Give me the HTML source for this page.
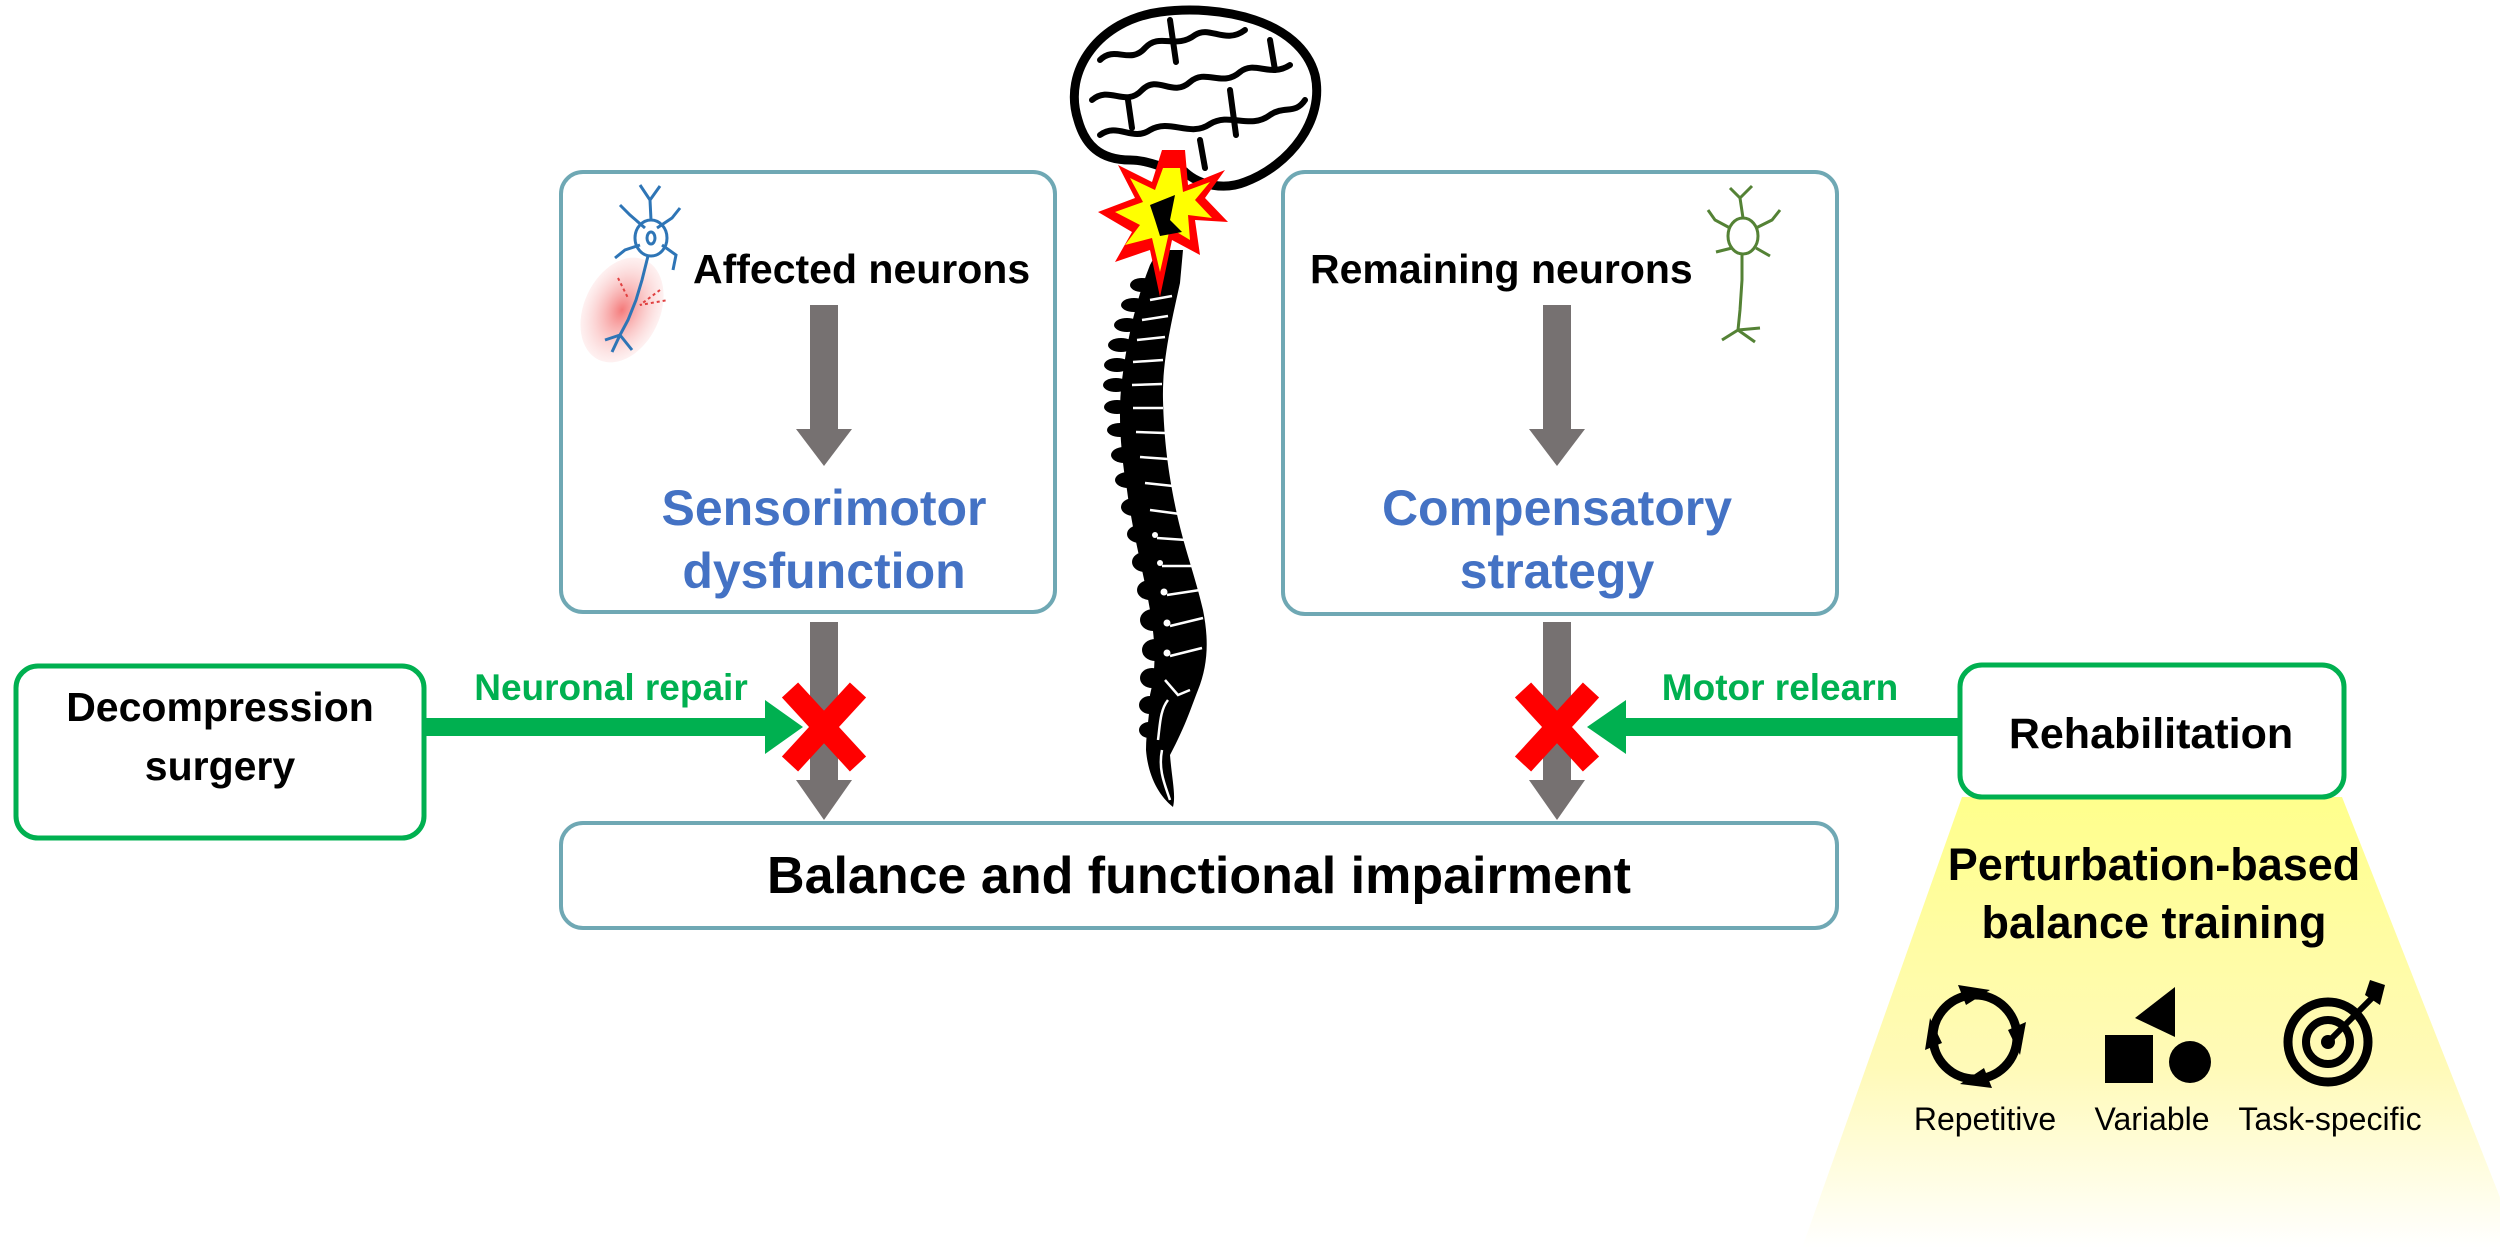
<!DOCTYPE html>
<html><head><meta charset="utf-8"><style>
html,body{margin:0;padding:0;background:#fff;}
svg{display:block;font-family:"Liberation Sans",Arial,sans-serif;}
</style></head><body>
<svg width="2500" height="1248" viewBox="0 0 2500 1248" xmlns="http://www.w3.org/2000/svg">
<defs>
<linearGradient id="yg" x1="0" y1="0" x2="0" y2="1">
<stop offset="0" stop-color="#ffff8c"/><stop offset="0.6" stop-color="#fffab8"/><stop offset="1" stop-color="#ffffff"/>
</linearGradient>
<radialGradient id="pink"><stop offset="0" stop-color="#f47a7a"/><stop offset="1" stop-color="#fbd0d0" stop-opacity="0.3"/></radialGradient>
</defs>

<polygon points="1962,797 2342,797 2520,1248 1802,1248" fill="url(#yg)"/>

<rect x="561" y="172" width="494" height="440" rx="22" fill="#fff" stroke="#6fa8b4" stroke-width="4"/>
<rect x="1283" y="172" width="554" height="442" rx="22" fill="#fff" stroke="#6fa8b4" stroke-width="4"/>
<rect x="561" y="823" width="1276" height="105" rx="22" fill="#fff" stroke="#6fa8b4" stroke-width="4"/>
<rect x="16" y="666" width="408" height="172" rx="22" fill="#fff" stroke="#00b050" stroke-width="5"/>
<rect x="1960" y="665" width="384" height="132" rx="22" fill="#fff" stroke="#00b050" stroke-width="5"/>

<g fill="#767171">
<rect x="810" y="305" width="28" height="126"/><polygon points="796,429 852,429 824,466"/>
<rect x="1543" y="305" width="28" height="126"/><polygon points="1529,429 1585,429 1557,466"/>
<rect x="810" y="622" width="28" height="160"/><polygon points="796,780 852,780 824,820"/>
<rect x="1543" y="622" width="28" height="160"/><polygon points="1529,780 1585,780 1557,820"/>
</g>

<g fill="#00b050">
<rect x="424" y="718" width="345" height="18"/><polygon points="765,700 803,727 765,754"/>
<rect x="1622" y="718" width="338" height="18"/><polygon points="1626,700 1587,727 1626,754"/>
</g>

<g stroke="#ff0000" stroke-width="22" stroke-linecap="butt">
<line x1="790" y1="690" x2="858" y2="764"/><line x1="858" y1="690" x2="790" y2="764"/>
<line x1="1523" y1="690" x2="1591" y2="764"/><line x1="1591" y1="690" x2="1523" y2="764"/>
</g>

<g font-weight="bold">
<text x="693" y="283" font-size="41" fill="#000">Affected neurons</text>
<text x="1310" y="283" font-size="41" fill="#000">Remaining neurons</text>
<text x="824" y="525" font-size="50" fill="#4472c4" text-anchor="middle">Sensorimotor</text>
<text x="824" y="588" font-size="50" fill="#4472c4" text-anchor="middle">dysfunction</text>
<text x="1557" y="525" font-size="50" fill="#4472c4" text-anchor="middle">Compensatory</text>
<text x="1557" y="588" font-size="50" fill="#4472c4" text-anchor="middle">strategy</text>
<text x="1199" y="893" font-size="52" fill="#000" text-anchor="middle">Balance and functional impairment</text>
<text x="220" y="721" font-size="41" fill="#000" text-anchor="middle">Decompression</text>
<text x="220" y="780" font-size="41" fill="#000" text-anchor="middle">surgery</text>
<text x="2151" y="748" font-size="43" fill="#000" text-anchor="middle">Rehabilitation</text>
<text x="611" y="700" font-size="37" fill="#00b050" text-anchor="middle">Neuronal repair</text>
<text x="1780" y="700" font-size="37" fill="#00b050" text-anchor="middle">Motor relearn</text>
<text x="2154" y="880" font-size="45" fill="#000" text-anchor="middle">Perturbation-based</text>
<text x="2154" y="938" font-size="45" fill="#000" text-anchor="middle">balance training</text>
</g>
<g font-size="32" fill="#000" text-anchor="middle">
<text x="1985" y="1130">Repetitive</text>
<text x="2152" y="1130">Variable</text>
<text x="2330" y="1130">Task-specific</text>
</g>

<g>
<circle cx="1975" cy="1037" r="42" fill="none" stroke="#000" stroke-width="9"/>
<polygon points="1958,985 1990,990 1966,1005" fill="#000"/>
<polygon points="2026,1022 2020,1055 2008,1030" fill="#000"/>
<polygon points="1992,1088 1960,1084 1984,1068" fill="#000"/>
<polygon points="1925,1050 1930,1018 1942,1043" fill="#000"/>
<rect x="2105" y="1035" width="48" height="48" fill="#000"/>
<polygon points="2175,987 2175,1037 2135,1018" fill="#000"/>
<circle cx="2190" cy="1062" r="21" fill="#000"/>
<circle cx="2328" cy="1042" r="40" fill="none" stroke="#000" stroke-width="9"/>
<circle cx="2328" cy="1042" r="22" fill="none" stroke="#000" stroke-width="8"/>
<circle cx="2328" cy="1042" r="7" fill="#000"/>
<line x1="2328" y1="1042" x2="2378" y2="992" stroke="#000" stroke-width="6"/>
<polygon points="2385,985 2380,1005 2365,995 2370,980" fill="#000"/>
</g>

<ellipse cx="622" cy="310" rx="38" ry="55" fill="url(#pink)" transform="rotate(25 622 310)"/>
<g fill="none" stroke="#2e75b6" stroke-width="3">
<ellipse cx="651" cy="238" rx="16" ry="18"/>
<path d="M651 220 L650 200 L640 185 M650 200 L660 186 M645 228 L630 215 L620 205 M657 228 L672 218 L680 208 M640 245 L625 250 L615 258 M662 245 L676 255 L673 270"/>
<path d="M648 256 L642 280 L636 300 L628 320 L620 335 M620 335 L605 340 M620 335 L612 352 M620 335 L632 350"/>
<ellipse cx="651" cy="238" rx="4" ry="6"/>
</g>
<g stroke="#e04040" stroke-width="2" stroke-dasharray="3 3" fill="none">
<path d="M618 278 L628 298 M660 290 L640 305 L668 300"/>
</g>

<g fill="none" stroke="#548235" stroke-width="3">
<ellipse cx="1743" cy="236" rx="15" ry="18"/>
<path d="M1743 218 L1740 198 L1730 188 M1740 198 L1752 186 M1730 228 L1715 220 L1708 210 M1756 228 L1772 220 L1780 210 M1732 248 L1716 252 M1756 248 L1770 256"/>
<path d="M1742 254 L1742 280 L1740 310 L1738 330 M1738 330 L1722 340 M1738 330 L1755 342 M1738 330 L1760 328"/>
</g>

<!-- spine -->
<path d="M1158 250 L1183 250 L1180 283 C1172 320,1162 360,1163 400 C1164 440,1168 470,1175 505 C1183 545,1195 575,1203 610 C1209 640,1208 665,1198 690 C1192 705,1186 725,1170 755 C1172 780,1176 795,1173 807 C1158 795,1148 775,1146 750 C1146 730,1150 715,1150 695 C1156 670,1156 645,1150 610 C1143 570,1132 530,1127 490 C1120 450,1118 410,1122 380 C1127 340,1136 300,1150 265 Z" fill="#000"/>
<g fill="#000">
<ellipse cx="1142" cy="285" rx="12" ry="7"/><ellipse cx="1134" cy="305" rx="13" ry="7"/>
<ellipse cx="1127" cy="325" rx="13" ry="7"/><ellipse cx="1121" cy="345" rx="13" ry="7"/>
<ellipse cx="1117" cy="365" rx="13" ry="7"/><ellipse cx="1116" cy="385" rx="13" ry="7"/>
<ellipse cx="1117" cy="407" rx="13" ry="7"/><ellipse cx="1120" cy="430" rx="13" ry="7"/>
<ellipse cx="1124" cy="455" rx="13" ry="8"/><ellipse cx="1128" cy="480" rx="13" ry="8"/>
<ellipse cx="1134" cy="507" rx="13" ry="9"/><ellipse cx="1140" cy="534" rx="13" ry="9"/>
<ellipse cx="1145" cy="562" rx="13" ry="10"/><ellipse cx="1150" cy="590" rx="13" ry="10"/>
<ellipse cx="1153" cy="620" rx="13" ry="11"/><ellipse cx="1155" cy="650" rx="13" ry="11"/>
<ellipse cx="1152" cy="678" rx="12" ry="10"/><ellipse cx="1150" cy="705" rx="11" ry="9"/>
<ellipse cx="1149" cy="730" rx="10" ry="8"/>
</g>
<g stroke="#fff" stroke-width="2.5" fill="none">
<path d="M1150 300 L1172 296"/><path d="M1142 320 L1168 316"/>
<path d="M1137 340 L1165 337"/><path d="M1133 362 L1163 360"/>
<path d="M1132 385 L1162 384"/><path d="M1133 408 L1163 408"/>
<path d="M1136 432 L1165 433"/><path d="M1140 457 L1168 459"/>
<path d="M1145 483 L1173 486"/><path d="M1150 510 L1180 514"/>
<path d="M1157 538 L1186 540"/><path d="M1162 566 L1193 566"/>
<path d="M1167 595 L1200 590"/><path d="M1170 626 L1203 618"/>
<path d="M1170 656 L1202 648"/><path d="M1165 680 L1178 695 L1190 690"/>
<path d="M1168 700 C1160 710,1160 725,1158 740"/>
<path d="M1162 750 C1158 770,1165 785,1170 800"/>
</g>
<g fill="#fff">
<circle cx="1155" cy="535" r="3"/><circle cx="1160" cy="563" r="3"/><circle cx="1164" cy="592" r="3.5"/><circle cx="1167" cy="623" r="3.5"/><circle cx="1167" cy="653" r="3.5"/>
</g>

<!-- brain -->
<path d="M1078 120 C1062 70,1100 20,1160 12 C1220 4,1300 20,1315 75 C1325 120,1290 165,1245 182 C1225 190,1200 186,1185 172 C1165 170,1150 160,1130 160 C1100 160,1085 145,1078 120 Z" fill="#fff" stroke="#000" stroke-width="9"/>
<g fill="none" stroke="#000" stroke-width="6" stroke-linecap="round">
<path d="M1100 60 C1115 45,1130 65,1145 48 C1160 32,1175 50,1195 35 C1210 25,1225 45,1245 30"/>
<path d="M1092 100 C1110 85,1125 108,1142 90 C1158 74,1172 98,1190 82 C1206 68,1222 88,1240 72 C1255 60,1270 78,1290 65"/>
<path d="M1100 135 C1118 122,1132 142,1150 130 C1170 118,1190 138,1210 124 C1230 112,1250 130,1270 115 C1285 105,1295 115,1305 100"/>
<path d="M1170 20 L1176 62 M1230 90 L1236 135 M1128 100 L1132 128 M1270 40 L1275 70 M1200 140 L1205 168"/>
</g>

<!-- explosion -->
<polygon points="1185,150 1188,185 1225,170 1205,198 1228,222 1195,220 1200,255 1172,240 1160,297 1150,250 1115,262 1132,232 1098,212 1135,198 1118,165 1152,182 1162,150" fill="#ff0000"/>
<polygon points="1180,168 1183,192 1210,182 1195,200 1212,218 1188,215 1190,240 1170,228 1160,272 1152,238 1125,245 1140,225 1115,212 1143,202 1130,178 1155,190 1163,168" fill="#ffff00"/>
<path d="M1150 205 L1175 195 L1170 220 L1182 232 L1160 236 L1155 220 Z" fill="#000"/>
</svg>
</body></html>
